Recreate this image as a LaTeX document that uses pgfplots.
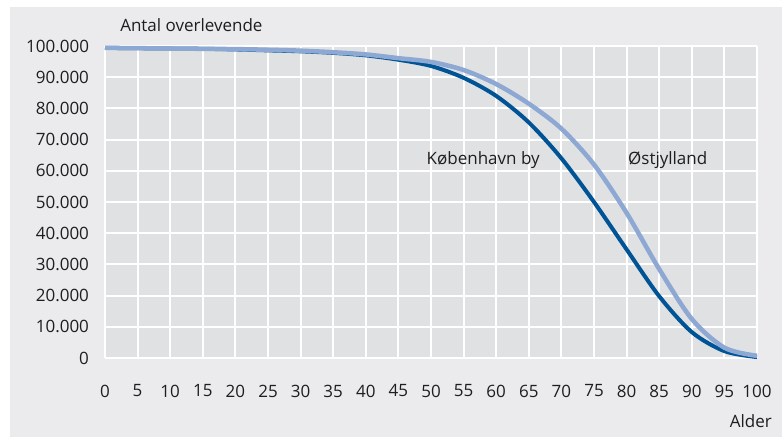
\documentclass[border=0pt]{standalone}
\usepackage{fontspec}
\setmainfont{Open Sans}
\usepackage{pgfplots}
\pgfplotsset{compat=1.18}
\usetikzlibrary{calc,backgrounds}

\definecolor{kbh}{RGB}{0,84,150}
\definecolor{ostj}{RGB}{142,168,212}
\definecolor{plotbg}{RGB}{224,225,227}
\definecolor{panel}{RGB}{235,235,237}
\definecolor{txt}{RGB}{30,30,30}

\begin{document}
\begin{tikzpicture}[font=\fontsize{12.75}{15}\selectfont, text=txt]
\begin{axis}[
    scale only axis,
    width=489pt, height=234pt,
    xmin=0, xmax=100, ymin=0, ymax=100000,
    xtick={0,5,...,100},
    ytick={0,10000,...,100000},
    grid=major,
    grid style={white, line width=1.5pt},
    axis background/.style={fill=plotbg},
    axis line style={draw=none},
    major tick length=0pt,
    tick label style={font=\fontsize{12.75}{15}\selectfont, text=txt},
    xticklabel style={yshift=-16.5pt},
    yticklabel style={xshift=-8.5pt},
    scaled y ticks=false,
    clip=false,
    /pgf/number format/.cd, fixed, 1000 sep={.}, assume math mode=true,
]
\coordinate (sw) at (rel axis cs:0,0);
\coordinate (ne) at (rel axis cs:1,1);

% København by
\addplot[kbh, line width=3pt, smooth] coordinates {
    (0,99400) (5,99300) (10,99200) (15,99100) (20,98900) (25,98600)
    (30,98300) (35,97800) (40,97000) (45,95600) (50,93600) (55,89800)
    (60,84000) (65,75500) (70,64000) (75,50000) (80,34800) (85,19800)
    (90,8300) (95,2200) (100,300)
};

% Østjylland
\addplot[ostj, line width=3.4pt, smooth] coordinates {
    (0,99400) (5,99300) (10,99200) (15,99100) (20,99000) (25,98800)
    (30,98500) (35,98000) (40,97300) (45,96100) (50,94900) (55,92300)
    (60,87800) (65,81500) (70,73500) (75,62000) (80,46500) (85,28500)
    (90,12500) (95,3300) (100,700)
};

\node[anchor=west, inner sep=0] at ([xshift=11.25pt, yshift=15.75pt]rel axis cs:0,1) {Antal overlevende};
\node[anchor=east, inner sep=0] at ([xshift=11.25pt, yshift=-47pt]rel axis cs:1,0) {Alder};
\node[anchor=west, inner sep=0] at (axis cs:49.3,63500) {København by};
\node[anchor=west, inner sep=0] at (axis cs:80.2,63500) {Østjylland};
\end{axis}

\begin{scope}[on background layer]
\fill[white] ($(sw)+(-78.75pt,-59pt)$) rectangle ($(ne)+(18.75pt,34.5pt)$);
\fill[panel] ($(sw)+(-71.25pt,-59pt)$) rectangle ($(ne)+(18.75pt,29.25pt)$);
\end{scope}
\pgfresetboundingbox
\useasboundingbox ($(sw)+(-78.75pt,-59pt)$) rectangle ($(ne)+(18.75pt,34.5pt)$);
\end{tikzpicture}
\end{document}
